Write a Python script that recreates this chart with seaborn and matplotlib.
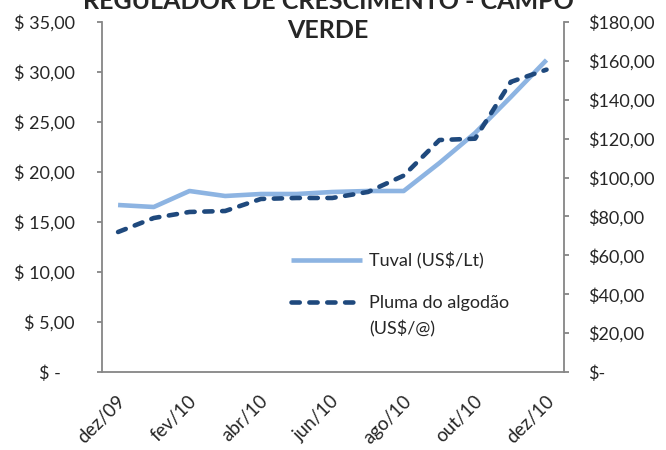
import matplotlib
matplotlib.use("Agg")
import matplotlib.pyplot as plt
import seaborn as sns
import numpy as np
import pandas as pd

months = ["dez/09", "jan/10", "fev/10", "mar/10", "abr/10", "mai/10", "jun/10",
          "jul/10", "ago/10", "set/10", "out/10", "nov/10", "dez/10"]
tuval = [16.7, 16.5, 18.1, 17.6, 17.8, 17.8, 18.0, 18.1, 18.1, 20.9, 23.9, 27.5, 31.2]
pluma = [72.0, 79.2, 82.3, 82.8, 89.0, 89.5, 89.5, 92.6, 101.0, 119.3, 120.0, 149.2, 155.5]
xtick_labels = ["dez/09", "fev/10", "abr/10", "jun/10", "ago/10", "out/10", "dez/10"]
left_ticks = [0, 5, 10, 15, 20, 25, 30, 35]
left_labels = ["$ -   ", "$ 5,00", "$ 10,00", "$ 15,00", "$ 20,00", "$ 25,00", "$ 30,00", "$ 35,00"]
right_ticks = [0, 20, 40, 60, 80, 100, 120, 140, 160, 180]
right_labels = ["$-", "$20,00", "$40,00", "$60,00", "$80,00", "$100,00", "$120,00",
                "$140,00", "$160,00", "$180,00"]
title = "REGULADOR DE CRESCIMENTO - CAMPO\nVERDE"
legend_tuval = "Tuval (US$/Lt)"
legend_pluma = "Pluma do algodão"
legend_pluma_unit = "(US$/@)"

sns.set_style("white")
plt.rcParams["font.family"] = ["Lato", "DejaVu Sans"]

df = pd.DataFrame({"pos": np.arange(len(months)) + 0.45, "month": months,
                   "tuval": tuval, "pluma": pluma})

W, H = 666, 450
fig = plt.figure(figsize=(6.66, 4.5), dpi=100)
ax = fig.add_axes([102/W, 1 - 372/H, (564 - 102)/W, (372 - 22)/H])
ax2 = ax.twinx()

light = "#8DB4E2"
dark = "#1F497D"
grey = "#868686"
fs = 13

sns.lineplot(data=df, x="pos", y="tuval", ax=ax, color=light, linewidth=3.3,
             label=legend_tuval, legend=False)
sns.lineplot(data=df, x="pos", y="pluma", ax=ax2, color=dark, linewidth=3.3,
             label=legend_pluma, legend=False)
for ln in ax2.get_lines():
    ln.set_dashes((1.8, 2.1))
    ln.set_dash_capstyle("round")
for ln in ax.get_lines():
    ln.set_solid_capstyle("butt")

ax.set_xlim(0, 12.94)
ax.set_ylim(0, 35)
ax2.set_ylim(0, 180)
ax.set_xticks(np.arange(0, 13, 2))
ax.set_xticklabels(xtick_labels, rotation=45, ha="center", fontsize=13.5)
ax.set_yticks(left_ticks)
ax.set_yticklabels(left_labels, fontsize=fs)
ax2.set_yticks(right_ticks)
ax2.set_yticklabels(right_labels, fontsize=fs)
ax.set_xlabel("")
ax.set_ylabel("")
ax2.set_ylabel("")

for a in (ax, ax2):
    a.spines["top"].set_visible(False)
    for s in ("left", "right", "bottom"):
        a.spines[s].set_color(grey)
        a.spines[s].set_linewidth(1.3)
    a.tick_params(axis="both", which="both", length=3.6, width=1.3, color=grey,
                  direction="out")
    a.grid(False)
ax.spines["right"].set_visible(False)
ax2.spines["left"].set_visible(False)
ax2.spines["bottom"].set_visible(False)
ax.tick_params(axis="y", pad=16)
ax2.tick_params(axis="y", pad=14)
ax.tick_params(axis="x", pad=11)

h1, l1 = ax.get_legend_handles_labels()
h2, l2 = ax2.get_legend_handles_labels()
leg = ax2.legend(h1 + h2, l1 + l2, loc="upper left", bbox_to_anchor=(275/W, 1 - 236/H),
                 bbox_transform=fig.transFigure, frameon=False, fontsize=fs,
                 handlelength=3.9, labelspacing=1.45, handletextpad=0.4)

fig.canvas.draw()
bb = leg.get_texts()[1].get_window_extent()
fig.text(bb.x0 / W, (bb.y0 - 9) / H, legend_pluma_unit, ha="left", va="top",
         fontsize=fs)

fig.text(328/W, 1 - 16/H, title, ha="center", va="center", fontsize=18,
         fontweight="bold", linespacing=1.3)

fig.savefig("out.png", dpi=100)
